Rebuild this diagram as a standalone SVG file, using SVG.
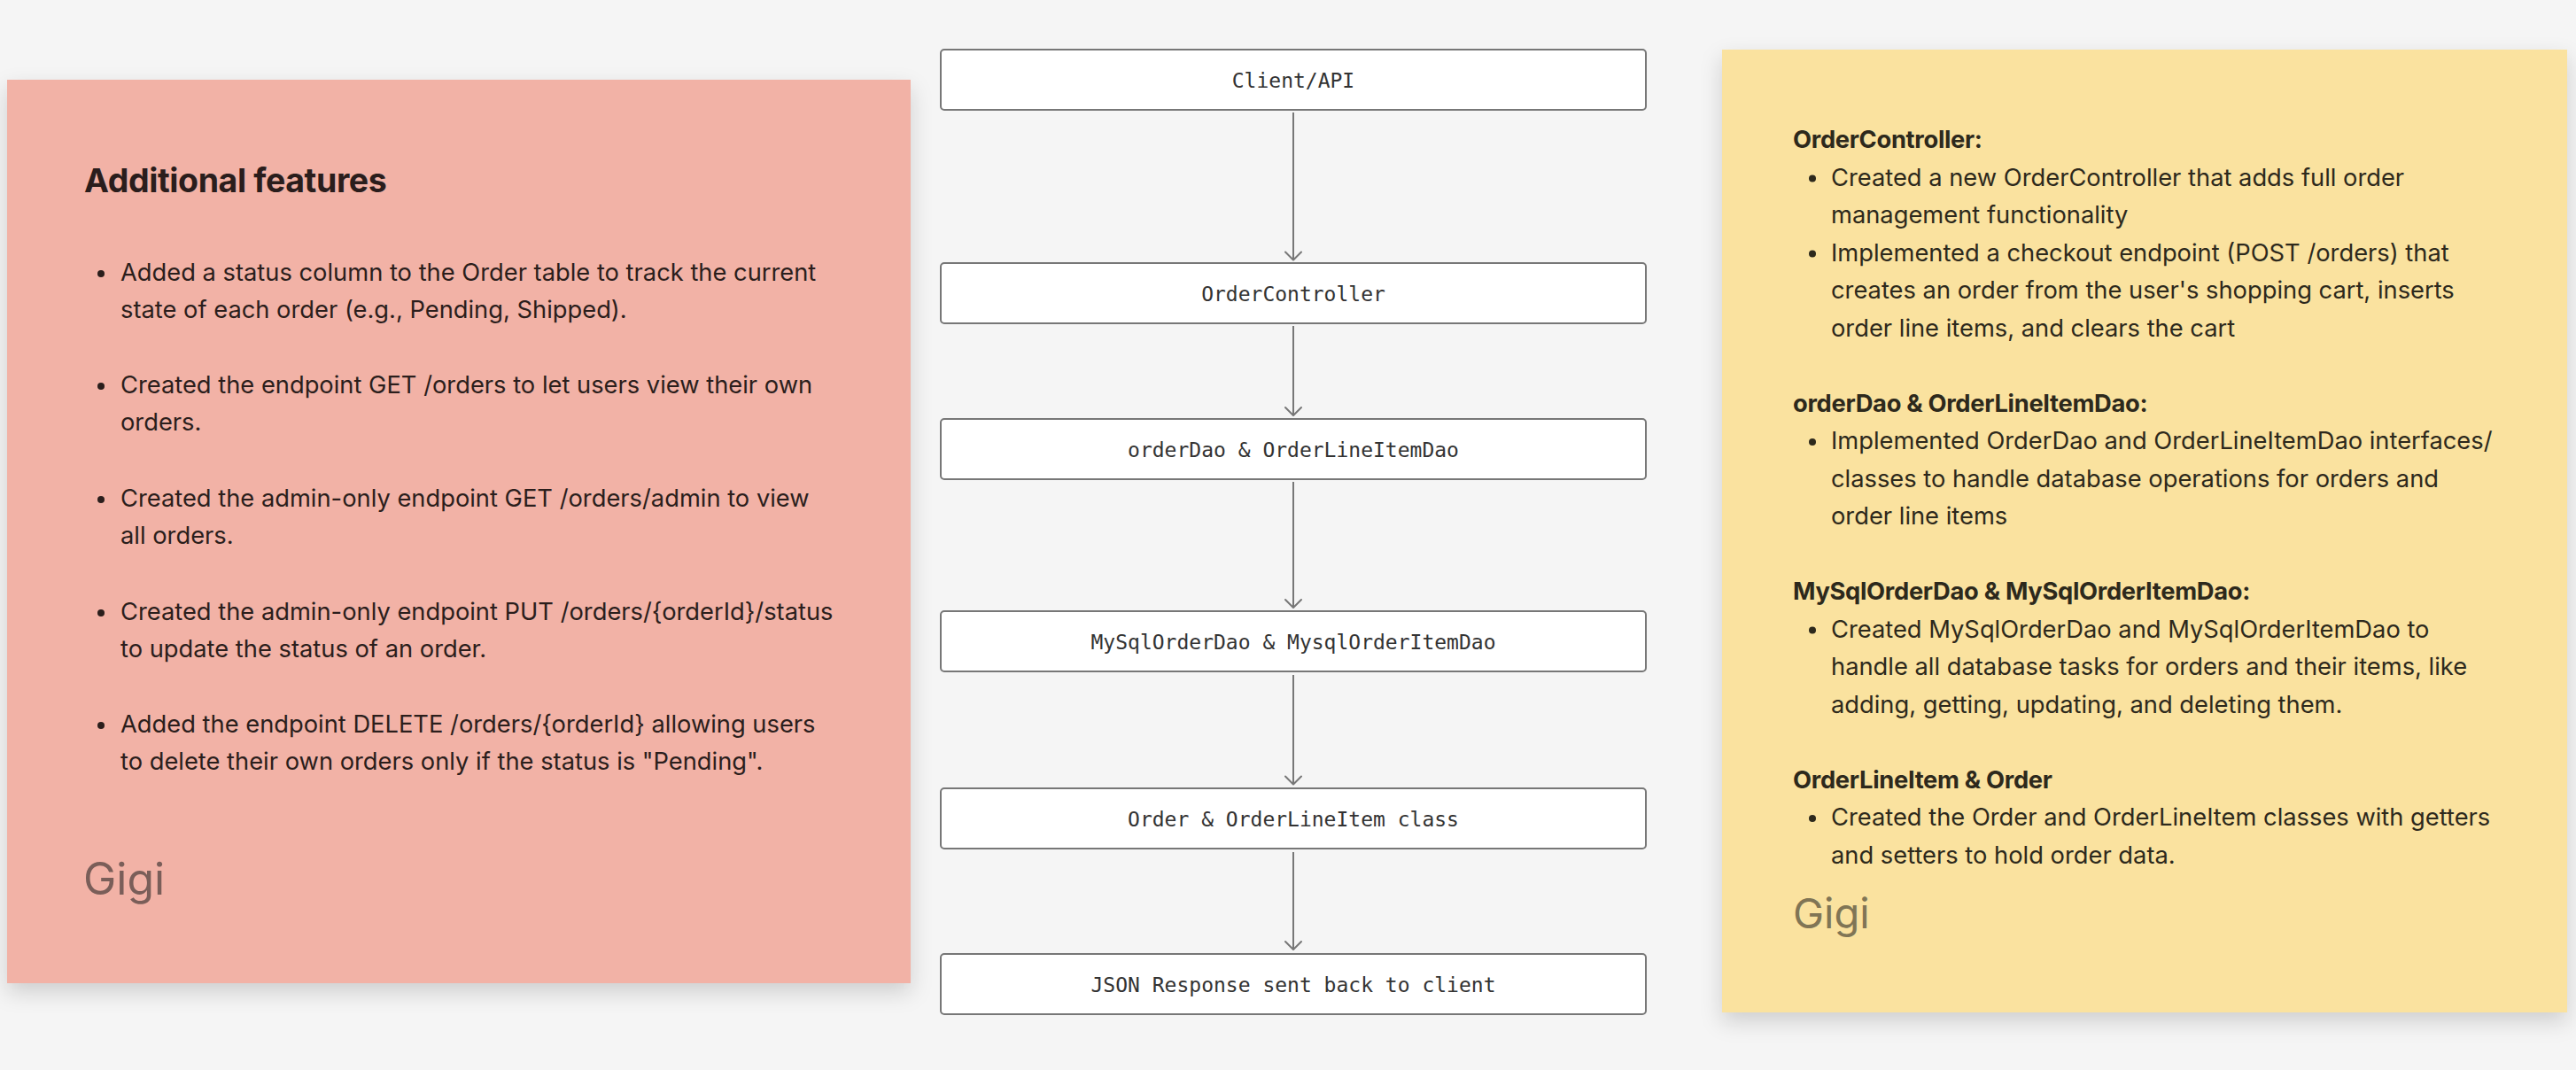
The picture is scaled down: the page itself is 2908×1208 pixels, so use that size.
<svg xmlns="http://www.w3.org/2000/svg" width="2908" height="1208" viewBox="0 0 2908 1208">
<defs>
<filter id="shadow" x="-10%" y="-10%" width="120%" height="125%">
<feDropShadow dx="0" dy="10" stdDeviation="12" flood-color="#000" flood-opacity="0.16"/>
</filter>
<marker id="arr" viewBox="-2 -2 13 22" refX="9" refY="9" markerWidth="13" markerHeight="22" markerUnits="userSpaceOnUse" orient="auto">
<path d="M0,0 L9,9 L0,18" fill="none" stroke="#777" stroke-width="2" stroke-linejoin="round" stroke-linecap="round"/>
</marker>
<style>
.body{font-family:Inter,"Noto Sans",sans-serif;font-size:27.3px;fill:#2b1e1c;}
.ybody{font-family:Inter,"Noto Sans",sans-serif;font-size:27.3px;fill:#2d291c;}
.yhead{font-family:Inter,"Noto Sans",sans-serif;font-size:27.3px;font-weight:700;fill:#2d291c;letter-spacing:-0.3px;}
.title{font-family:Inter,"Noto Sans",sans-serif;font-size:37.5px;font-weight:700;fill:#2a1d1c;letter-spacing:-0.4px;}
.gigi{font-family:Inter,"Noto Sans",sans-serif;}
.box{fill:#fff;stroke:#777;stroke-width:2;}
.lbl{font-family:"DejaVu Sans Mono",monospace;font-size:23px;fill:#333;text-anchor:middle;}
.conn{stroke:#777;stroke-width:2;fill:none;}
</style>
</defs>
<rect width="2908" height="1208" fill="#f5f5f5"/>

<g id="note-additional-features">
<rect x="8" y="90" width="1020" height="1020" fill="#f2b2a6" filter="url(#shadow)"/>
<text class="title" x="95" y="217">Additional features</text>
<g fill="#2b1e1c">
<circle cx="114" cy="309" r="4"/><circle cx="114" cy="436" r="4"/><circle cx="114" cy="564" r="4"/><circle cx="114" cy="692" r="4"/><circle cx="114" cy="819" r="4"/>
</g>
<text class="body" x="136" y="317">Added a status column to the Order table to track the current</text>
<text class="body" x="136" y="359">state of each order (e.g., Pending, Shipped).</text>
<text class="body" x="136" y="444">Created the endpoint GET /orders to let users view their own</text>
<text class="body" x="136" y="486">orders.</text>
<text class="body" x="136" y="572">Created the admin-only endpoint GET /orders/admin to view</text>
<text class="body" x="136" y="614">all orders.</text>
<text class="body" x="136" y="700">Created the admin-only endpoint PUT /orders/{orderId}/status</text>
<text class="body" x="136" y="742">to update the status of an order.</text>
<text class="body" x="136" y="827">Added the endpoint DELETE /orders/{orderId} allowing users</text>
<text class="body" x="136" y="869">to delete their own orders only if the status is "Pending".</text>
<text class="gigi" x="94" y="1010" font-size="50" fill="#7a5e59">Gigi</text>
</g>

<g id="connectors">
<line class="conn" x1="1460" y1="127" x2="1460" y2="293.5" marker-end="url(#arr)"/>
<line class="conn" x1="1460" y1="368" x2="1460" y2="469" marker-end="url(#arr)"/>
<line class="conn" x1="1460" y1="544" x2="1460" y2="686" marker-end="url(#arr)"/>
<line class="conn" x1="1460" y1="762" x2="1460" y2="885.5" marker-end="url(#arr)"/>
<line class="conn" x1="1460" y1="962" x2="1460" y2="1072" marker-end="url(#arr)"/>
</g>

<g id="node-client-api">
<rect class="box" x="1062" y="56" width="796" height="68" rx="4"/>
<text class="lbl" x="1460" y="99">Client/API</text>
</g>
<g id="node-order-controller">
<rect class="box" x="1062" y="297" width="796" height="68" rx="4"/>
<text class="lbl" x="1460" y="340">OrderController</text>
</g>
<g id="node-order-dao">
<rect class="box" x="1062" y="473" width="796" height="68" rx="4"/>
<text class="lbl" x="1460" y="516">orderDao &amp; OrderLineItemDao</text>
</g>
<g id="node-mysql-dao">
<rect class="box" x="1062" y="690" width="796" height="68" rx="4"/>
<text class="lbl" x="1460" y="733">MySqlOrderDao &amp; MysqlOrderItemDao</text>
</g>
<g id="node-order-classes">
<rect class="box" x="1062" y="890" width="796" height="68" rx="4"/>
<text class="lbl" x="1460" y="933">Order &amp; OrderLineItem class</text>
</g>
<g id="node-json-response">
<rect class="box" x="1062" y="1077" width="796" height="68" rx="4"/>
<text class="lbl" x="1460" y="1120">JSON Response sent back to client</text>
</g>

<g id="note-summary">
<rect x="1944" y="56" width="954" height="1087" fill="#fae29f" filter="url(#shadow)"/>
<g fill="#2d291c">
<circle cx="2046" cy="201.5" r="4"/><circle cx="2046" cy="286.5" r="4"/><circle cx="2046" cy="499" r="4"/><circle cx="2046" cy="711.5" r="4"/><circle cx="2046" cy="924" r="4"/>
</g>
<text class="yhead" x="2024" y="167">OrderController:</text>
<text class="ybody" x="2067" y="209.5">Created a new OrderController that adds full order</text>
<text class="ybody" x="2067" y="252">management functionality</text>
<text class="ybody" x="2067" y="294.5">Implemented a checkout endpoint (POST /orders) that</text>
<text class="ybody" x="2067" y="337">creates an order from the user's shopping cart, inserts</text>
<text class="ybody" x="2067" y="379.5">order line items, and clears the cart</text>
<text class="yhead" x="2024" y="464.5">orderDao &amp; OrderLineItemDao:</text>
<text class="ybody" x="2067" y="507">Implemented OrderDao and OrderLineItemDao interfaces/</text>
<text class="ybody" x="2067" y="549.5">classes to handle database operations for orders and</text>
<text class="ybody" x="2067" y="592">order line items</text>
<text class="yhead" x="2024" y="677">MySqlOrderDao &amp; MySqlOrderItemDao:</text>
<text class="ybody" x="2067" y="719.5">Created MySqlOrderDao and MySqlOrderItemDao to</text>
<text class="ybody" x="2067" y="762">handle all database tasks for orders and their items, like</text>
<text class="ybody" x="2067" y="804.5">adding, getting, updating, and deleting them.</text>
<text class="yhead" x="2024" y="889.5">OrderLineItem &amp; Order</text>
<text class="ybody" x="2067" y="932">Created the Order and OrderLineItem classes with getters</text>
<text class="ybody" x="2067" y="974.5">and setters to hold order data.</text>
<text class="gigi" x="2024" y="1048" font-size="47" fill="#807555">Gigi</text>
</g>
</svg>
